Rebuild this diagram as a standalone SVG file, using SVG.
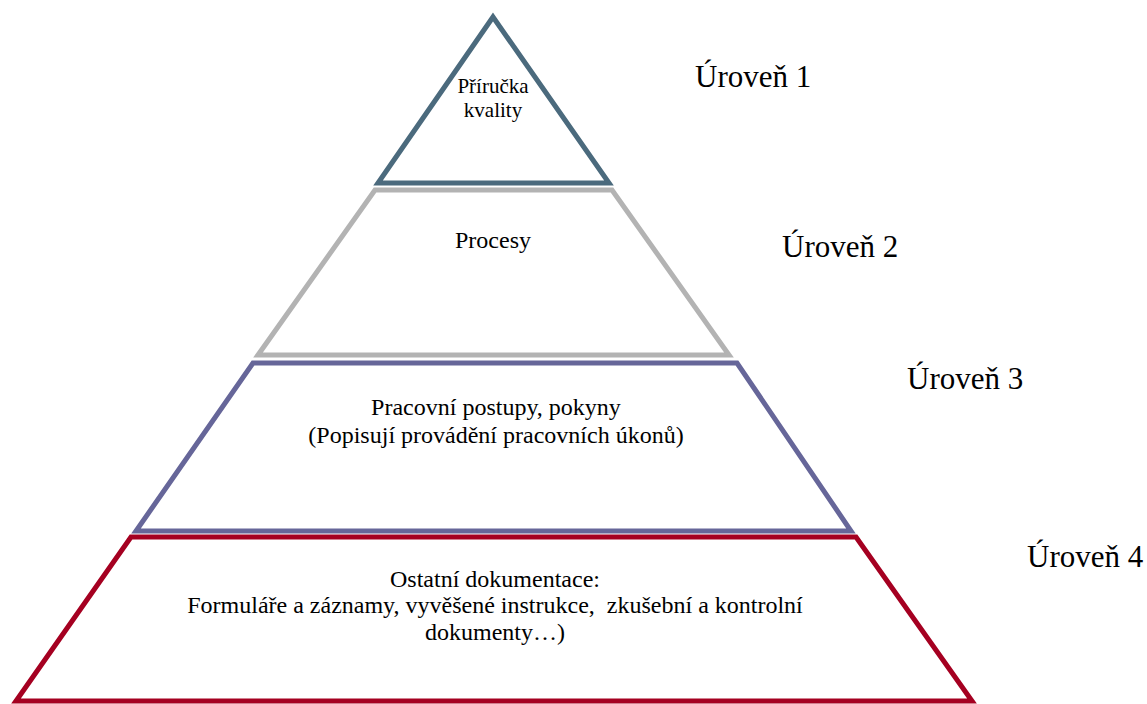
<svg xmlns="http://www.w3.org/2000/svg" width="1147" height="704" viewBox="0 0 1147 704">
<style>
.shape{fill:#ffffff;stroke-width:5;stroke-linejoin:miter}
text{font-family:'Liberation Serif','Times New Roman',Tinos,'DejaVu Serif',serif;fill:#000000}
.t{text-anchor:middle}
.lbl{font-size:31px}
</style>
<rect width="1147" height="704" fill="#ffffff"/>
<g id="level4">
<polygon class="shape" stroke="#A50021" points="131,537 856,537 972,701 16,701"/>
<text class="t" font-size="24" x="495" y="587">Ostatní dokumentace:</text>
<text class="t" font-size="24" x="495" y="613" xml:space="preserve">Formuláře a záznamy, vyvěšené instrukce,  zkušební a kontrolní</text>
<text class="t" font-size="24" x="495" y="640">dokumenty…)</text>
</g>
<g id="level3">
<polygon class="shape" stroke="#666699" points="253,363 737,363 851,531 136,531"/>
<text class="t" font-size="24" x="496" y="415">Pracovní postupy, pokyny</text>
<text class="t" font-size="24" x="496" y="443">(Popisují provádění pracovních úkonů)</text>
</g>
<g id="level2">
<polygon class="shape" stroke="#B3B3B3" points="375,190 612,190 729,355 258,355"/>
<text class="t" font-size="24" x="493" y="248">Procesy</text>
</g>
<g id="level1">
<polygon class="shape" stroke="#4B6A7D" points="493,17 609,183 378,183"/>
<text class="t" font-size="21" x="493" y="93">Příručka</text>
<text class="t" font-size="21" x="493" y="117">kvality</text>
</g>
<g id="labels">
<text class="lbl" x="695" y="87">Úroveň 1</text>
<text class="lbl" x="782" y="257">Úroveň 2</text>
<text class="lbl" x="907" y="389">Úroveň 3</text>
<text class="lbl" x="1027" y="567">Úroveň 4</text>
</g>
<g id="connectors"></g>
</svg>
